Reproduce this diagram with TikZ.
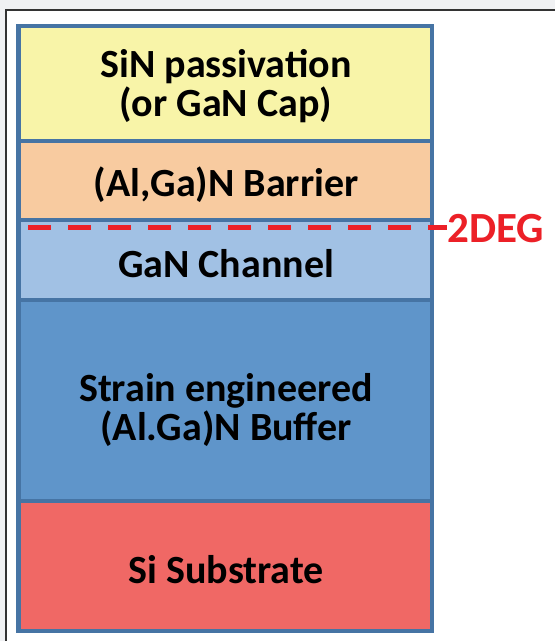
\documentclass[tikz,border=0pt]{standalone}
\usepackage{fontspec}
\setmainfont{Carlito}
\definecolor{bgc}{HTML}{F0F1F3}
\definecolor{edge}{HTML}{4674A4}
\definecolor{ly}{HTML}{F8F4A8}
\definecolor{lo}{HTML}{F8CBA0}
\definecolor{llb}{HTML}{A1C1E4}
\definecolor{lb}{HTML}{5F95CA}
\definecolor{lr}{HTML}{F06865}
\definecolor{dred}{HTML}{EC2027}
\tikzset{
  layer/.style={draw=edge, line width=4.5pt},
  lbl/.style={font=\bfseries\fontsize{40}{39}\selectfont, align=center, anchor=base, inner sep=0pt},
  deg/.style={font=\bfseries\fontsize{43}{43}\selectfont, text=dred, anchor=base west, inner sep=0pt},
}
\begin{document}
\begin{tikzpicture}[x=1pt,y=-1pt]
\useasboundingbox (0,0) rectangle (555,641);
\fill[bgc] (0,0) rectangle (555,641);
\draw[fill=white, draw=black!80, line width=1.2pt] (6,10) rectangle (560,650);
% layers
\path[layer, fill=ly]  (18.5,26) rectangle (432,141);
\path[layer, fill=lo]  (18.5,141) rectangle (432,220);
\path[layer, fill=llb] (18.5,220) rectangle (432,300);
\path[layer, fill=lb]  (18.5,300) rectangle (432,501);
\path[layer, fill=lr]  (18.5,501) rectangle (432,631);
% labels (base = baseline of last line)
\node[lbl] (sin) at (226,116) {SiN passivation\\(or GaN Cap)};
\node[lbl] (bar) at (226,196) {(Al,Ga)N Barrier};
\node[lbl] (chn) at (226,277) {GaN Channel};
\node[lbl] (buf) at (226,440) {Strain engineered\\(Al.Ga)N Buffer};
\node[lbl] (sub) at (226,583) {Si Substrate};
% 2DEG
\node[deg] (deg) at (447,242) {2DEG};
\coordinate (dstart) at (28,227);
\draw[dred, line width=5pt, dash pattern=on 23pt off 17pt] (dstart) -- (deg.west |- dstart);
\end{tikzpicture}
\end{document}
